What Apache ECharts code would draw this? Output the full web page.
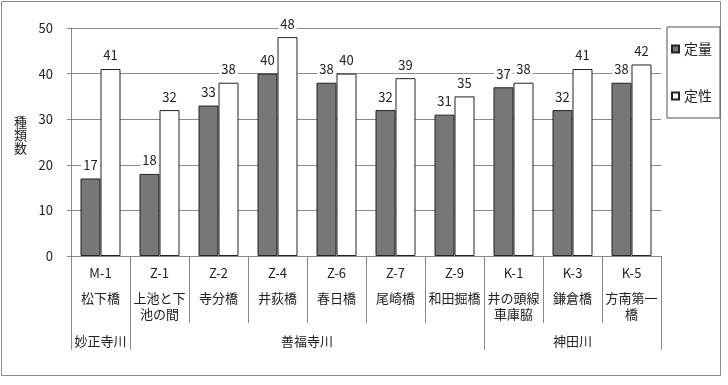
<!DOCTYPE html>
<html>
<head>
<meta charset="utf-8">
<script src="https://cdn.jsdelivr.net/npm/echarts@6/dist/echarts.min.js"></script>
<style>
  body { margin: 0; background: #fff; }
  #main { width: 728px; height: 385px; }
</style>
</head>
<body>
<div id="main"></div>
<script>
var codes = ['M-1', 'Z-1', 'Z-2', 'Z-4', 'Z-6', 'Z-7', 'Z-9', 'K-1', 'K-3', 'K-5'];
var names = ['松下橋', '上池と下\n池の間', '寺分橋', '井荻橋', '春日橋', '尾崎橋', '和田掘橋', '井の頭線\n車庫脇', '鎌倉橋', '方南第一\n橋'];
var groupNames = ['妙正寺川', '善福寺川', '神田川'];
var groupSizes = [1, 6, 3];
var teiryo = [17, 18, 33, 40, 38, 32, 31, 37, 32, 38];
var teisei = [41, 32, 38, 48, 40, 39, 35, 38, 41, 42];
var yTicks = [0, 10, 20, 30, 40, 50];

var font = '"Noto Sans CJK JP", sans-serif';
var lineCol = '#8a8a8a';

// group boundaries and centres on the 0..10 helper axis
var groupEdges = [0], groupMids = [];
groupSizes.forEach(function (s, i) {
  groupMids.push(groupEdges[i] + s / 2);
  groupEdges.push(groupEdges[i] + s);
});

var myChart = echarts.init(document.getElementById('main'));

var barLabel = {
  show: true,
  position: 'top',
  distance: 7,
  fontFamily: font,
  fontSize: 13,
  color: '#222',
  backgroundColor: '#fff',
  padding: [0, 2]
};

var option = {
  backgroundColor: '#fff',
  textStyle: { fontFamily: font },
  animation: false,
  grid: {
    left: 71, right: 67, top: 28, bottom: 129,
    containLabel: false,
    outerBoundsMode: 'none'
  },
  legend: {
    orient: 'vertical',
    left: 667, top: 27,
    padding: [15, 8, 15, 4],
    borderColor: '#555',
    borderWidth: 1,
    icon: 'rect',
    itemWidth: 7, itemHeight: 7,
    itemGap: 33,
    textStyle: { fontFamily: font, fontSize: 14, color: '#222' },
    data: ['定量', '定性']
  },
  xAxis: [{
    type: 'category',
    data: codes,
    axisLine: { lineStyle: { color: lineCol } },
    axisTick: { show: true, interval: 0, length: 67, lineStyle: { color: lineCol } },
    axisLabel: {
      interval: 0,
      margin: 0,
      color: '#222',
      formatter: function (v, i) {
        var parts = names[i].split('\n').map(function (p) { return '{n|' + p + '}'; });
        return '{c|' + v + '}\n' + parts.join('\n');
      },
      rich: {
        c: { fontFamily: font, fontSize: 13, lineHeight: 34, color: '#222' },
        n: { fontFamily: font, fontSize: 13, lineHeight: 16, color: '#222' }
      }
    }
  }, {
    type: 'value',
    position: 'bottom',
    min: 0, max: codes.length,
    axisLine: { show: false },
    splitLine: { show: false },
    axisTick: {
      show: true,
      customValues: groupEdges,
      length: 94,
      lineStyle: { color: lineCol }
    },
    axisLabel: {
      customValues: groupMids,
      margin: 79,
      fontFamily: font,
      fontSize: 13,
      color: '#222',
      formatter: function (v) {
        return groupNames[groupMids.indexOf(v)];
      }
    }
  }],
  yAxis: {
    type: 'value',
    min: yTicks[0], max: yTicks[yTicks.length - 1], interval: 10,
    name: '種\n類\n数\n',
    nameLocation: 'middle',
    nameRotate: 0,
    nameGap: 44,
    nameTextStyle: { fontFamily: font, fontSize: 13, color: '#222', lineHeight: 13 },
    axisLine: { show: true, lineStyle: { color: lineCol } },
    axisTick: { show: true, length: 4, lineStyle: { color: lineCol } },
    axisLabel: { margin: 18, fontFamily: font, fontSize: 13, color: '#222' },
    splitLine: { lineStyle: { color: lineCol } }
  },
  series: [{
    name: '定量',
    type: 'bar',
    barWidth: 20,
    barGap: '0%',
    data: teiryo,
    itemStyle: { color: '#777', borderColor: '#222', borderWidth: 1 },
    label: barLabel
  }, {
    name: '定性',
    type: 'bar',
    barWidth: 20,
    barGap: '0%',
    data: teisei,
    itemStyle: { color: '#fff', borderColor: '#222', borderWidth: 1 },
    label: barLabel
  }],
  graphic: [{
    type: 'rect',
    shape: { x: 1.5, y: 1.5, width: 719, height: 374 },
    style: { fill: null, stroke: lineCol, lineWidth: 1 },
    silent: true
  }]
};
myChart.setOption(option);
</script>
</body>
</html>
